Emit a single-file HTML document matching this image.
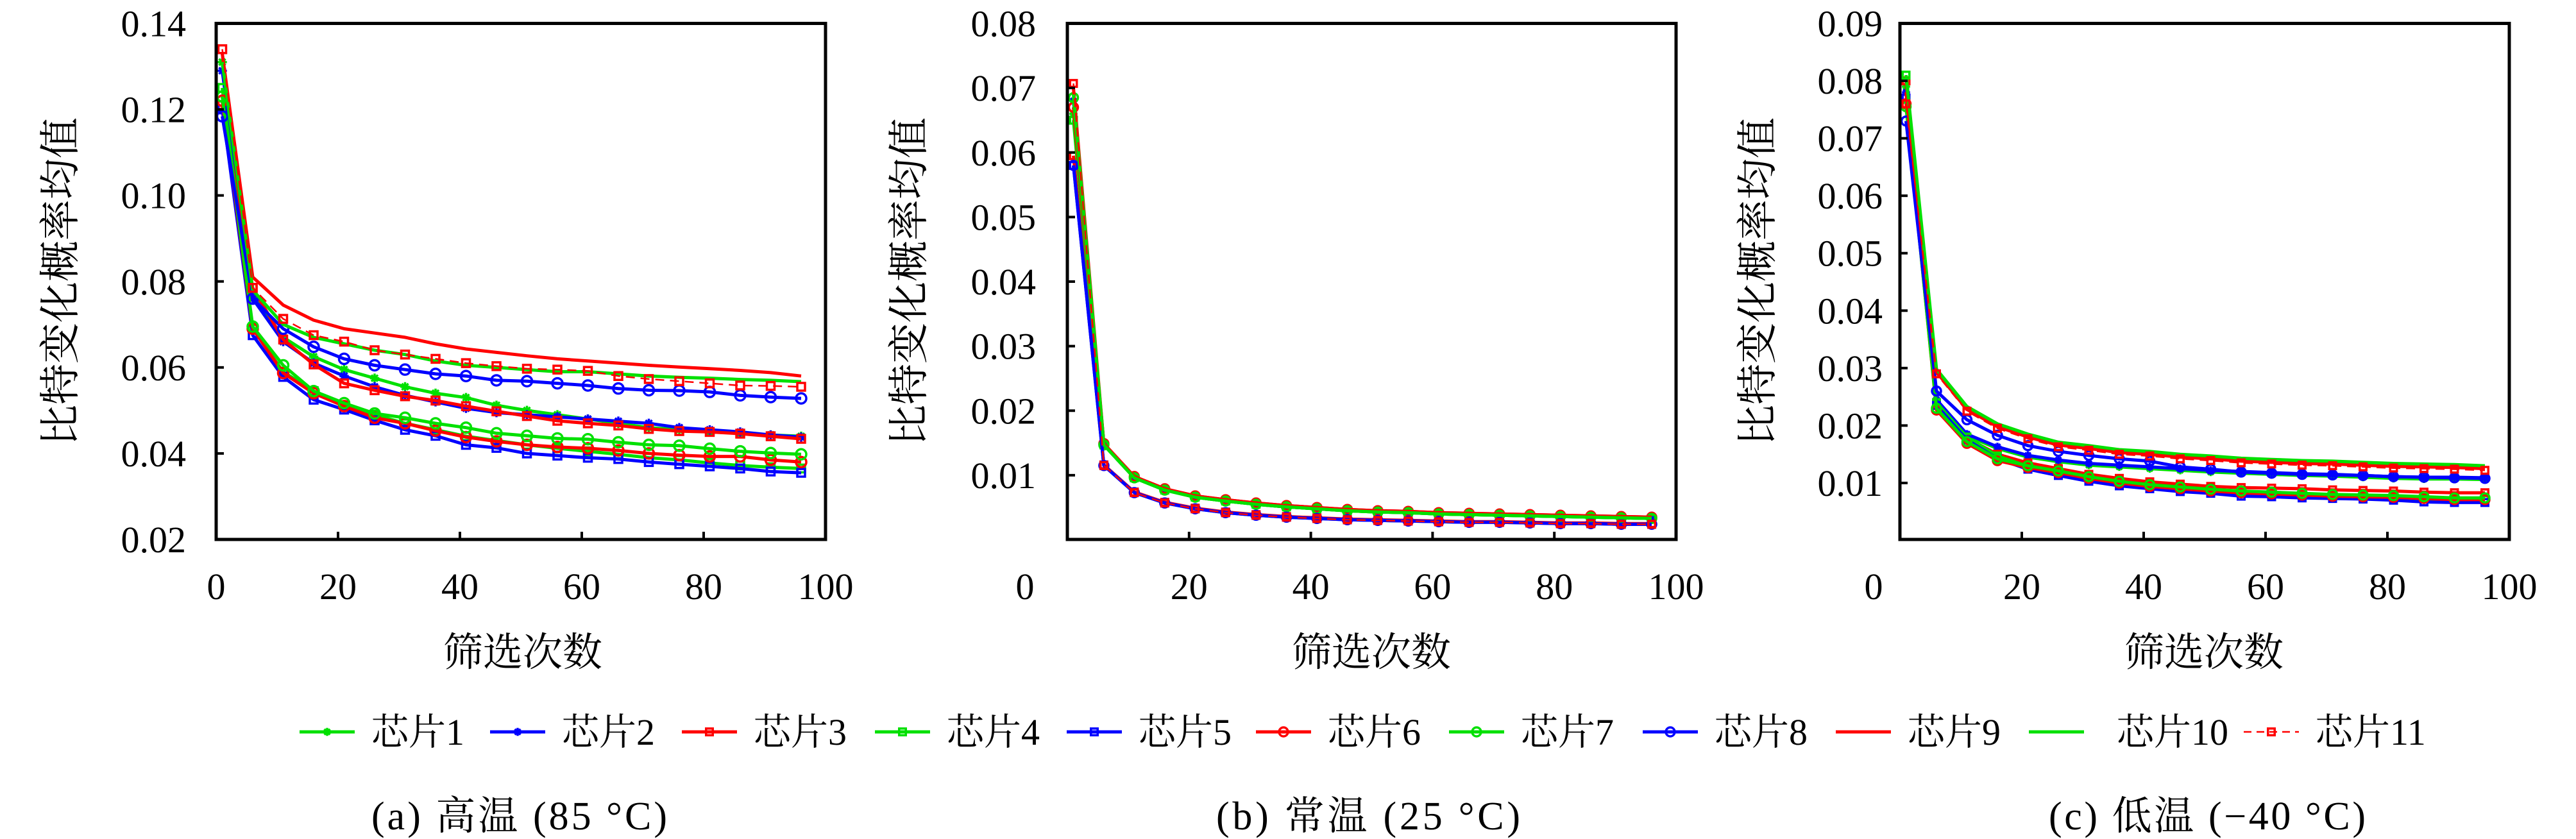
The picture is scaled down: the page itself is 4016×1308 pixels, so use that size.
<!DOCTYPE html>
<html><head><meta charset="utf-8"><style>
html,body{margin:0;padding:0;background:#fff;}
svg{display:block;}
text{font-family:"Liberation Serif","Noto Serif CJK SC",serif;fill:#000;}
</style></head><body>
<svg id="s" xmlns="http://www.w3.org/2000/svg" width="4016" height="1308" viewBox="0 0 4016 1308">
<rect width="4016" height="1308" fill="#fff"/>
<g id="g"></g>
<g font-size="58">
<text x="579" y="1161">芯片1</text>
<text x="876" y="1161">芯片2</text>
<text x="1175" y="1161">芯片3</text>
<text x="1476" y="1161">芯片4</text>
<text x="1775" y="1161">芯片5</text>
<text x="2070" y="1161">芯片6</text>
<text x="2371" y="1161">芯片7</text>
<text x="2673" y="1161">芯片8</text>
<text x="2974" y="1161">芯片9</text>
<text x="3300" y="1161">芯片10</text>
<text x="3610" y="1161">芯片11</text>
</g>
<g font-size="62">
<text x="579" y="1293" textLength="461" lengthAdjust="spacing">(a) 高温 (85 °C)</text>
<text x="1896" y="1293" textLength="474" lengthAdjust="spacing">(b) 常温 (25 °C)</text>
<text x="3194" y="1293" textLength="494" lengthAdjust="spacing">(c) 低温 (−40 °C)</text>
</g>
</svg>
<script>
(function(){
var NS="http://www.w3.org/2000/svg",G=document.getElementById('g');
function el(t,a){var e=document.createElementNS(NS,t);for(var k in a)e.setAttribute(k,a[k]);G.appendChild(e);return e;}
var GR='#00e000',BL='#0000ff',RD='#ff0000';
var sty=[
 {c:GR,m:'star'},{c:BL,m:'star'},{c:RD,m:'sq'},{c:GR,m:'sq'},{c:BL,m:'sq'},
 {c:RD,m:'ci'},{c:GR,m:'ci'},{c:BL,m:'ci'},{c:RD,m:''},{c:GR,m:''},{c:RD,m:'sq',d:1}];
function marker(m,x,y,c,r){
 if(m==='sq')el('rect',{x:x-r*0.75,y:y-r*0.75,width:r*1.5,height:r*1.5,fill:'none',stroke:c,'stroke-width':3.5});
 else if(m==='ci')el('circle',{cx:x,cy:y,r:r,fill:'none',stroke:c,'stroke-width':3.5});
 else if(m==='star'){var s=r*0.9;el('path',{d:'M'+(x-s)+' '+y+'H'+(x+s)+'M'+x+' '+(y-s)+'V'+(y+s)+'M'+(x-s*.7)+' '+(y-s*.7)+'L'+(x+s*.7)+' '+(y+s*.7)+'M'+(x-s*.7)+' '+(y+s*.7)+'L'+(x+s*.7)+' '+(y-s*.7),stroke:c,'stroke-width':3.5});}
}
var xs=[];for(var i=1;i<=96;i+=5)xs.push(i);
function panel(P,data,yt,r){
 var X=function(x){return P.x0+x/100*(P.x1-P.x0)},Y=function(v){return P.yb-(v-P.vmin)/(P.vmax-P.vmin)*(P.yb-P.yt)};
 for(var s=0;s<11;s++){var d=data[s],st=sty[s],pts=[];
  for(var i=0;i<d.length;i++)pts.push(X(xs[i]).toFixed(1)+','+Y(d[i]).toFixed(1));
  var a={points:pts.join(' '),fill:'none',stroke:st.c,'stroke-width':st.d?2.5:5,'stroke-linejoin':'round'};
  if(st.d)a['stroke-dasharray']='14 9';
  el('polyline',a);
  if(st.m)for(var i=0;i<d.length;i++)marker(st.m,X(xs[i]),Y(d[i]),st.c,r);
 }
 el('rect',{x:P.x0,y:36.5,width:P.x1-P.x0,height:841-36.5,fill:'none',stroke:'#000','stroke-width':5});
 for(var k=20;k<=80;k+=20)el('line',{x1:X(k),x2:X(k),y1:841,y2:829,stroke:'#000','stroke-width':4});
 for(var k=0;k<=100;k+=20){var t=el('text',{x:k==0?P.zx:X(k),y:934,'font-size':58,'text-anchor':'middle'});t.textContent=k;}
 yt.forEach(function(v){var y=Y(v);el('line',{x1:P.x0,x2:P.x0+12,y1:y,y2:y,stroke:'#000','stroke-width':4});
  var t=el('text',{x:P.lx,y:y+20,'font-size':58,'text-anchor':'end'});t.textContent=v.toFixed(2);});
 var t=el('text',{x:P.xl,y:1038,'font-size':62,'text-anchor':'middle'});t.textContent='筛选次数';
 t=el('text',{x:0,y:0,'font-size':64,'text-anchor':'middle',transform:'translate('+(P.yl+22)+',439) rotate(-90)'});t.textContent='比特变化概率均值';
}
var A=[
[.131,.077,.067,.0625,.0595,.0575,.0555,.054,.053,.0512,.050,.049,.048,.047,.046,.0455,.045,.0447,.0443,.044],
[.129,.076,.066,.061,.058,.0555,.0535,.052,.0505,.0495,.049,.0485,.048,.0475,.047,.046,.0455,.045,.0443,.0438],
[.121,.0785,.0665,.0607,.0563,.0547,.0533,.0523,.051,.0498,.0487,.0476,.047,.0465,.0457,.0452,.045,.0446,.044,.0434],
[.125,.069,.059,.0545,.0512,.049,.047,.0455,.044,.043,.042,.0412,.0405,.0398,.039,.0385,.0378,.0372,.0368,.0365],
[.12,.0675,.0578,.0525,.0502,.0477,.0455,.0441,.042,.0413,.040,.0395,.039,.0387,.038,.0375,.037,.0365,.0358,.0355],
[.122,.069,.0587,.054,.051,.0483,.047,.0453,.0438,.0428,.042,.0415,.0412,.0407,.040,.0396,.0393,.0393,.0385,.038],
[.123,.0695,.0605,.0545,.0517,.0493,.0483,.047,.046,.0447,.0441,.0435,.0433,.0426,.042,.0418,.0411,.0405,.0401,.0398],
[.1184,.076,.069,.0648,.062,.0605,.0595,.0585,.058,.057,.0568,.0563,.0558,.0551,.0547,.0546,.0543,.0535,.0531,.0528],
[.133,.081,.0745,.071,.069,.068,.067,.0655,.0643,.0635,.0627,.062,.0615,.061,.0605,.0601,.0597,.0593,.0588,.058],
[.131,.078,.070,.067,.0655,.064,.063,.0615,.0605,.060,.0595,.059,.059,.0585,.058,.0577,.0575,.0572,.057,.0567],
[.134,.0785,.0713,.0675,.066,.064,.063,.062,.061,.0603,.0597,.0595,.0592,.058,.0573,.0568,.0563,.0558,.0557,.0555]];
var tg=[.0148,.0097,.0078,.0067,.0061,.0056,.0052,.0049,.0046,.0044,.0043,.0041,.0040,.0039,.0038,.0037,.0036,.0035,.0034];
var bg=[.0115,.0073,.0057,.0048,.0042,.0038,.0035,.0033,.0031,.0030,.0029,.0028,.0027,.0027,.0026,.0025,.0025,.0024,.0024];
var bs=[[.066,0],[.068,0],[.0595,1],[.065,0],[.058,1],[.067,0],[.0685,0],[.058,1],[.070,0],[.069,0],[.0707,1]];
var B=bs.map(function(q,i){var arr=q[1]?bg:tg;return [q[0]].concat(arr.map(function(v){return v+(i%3-1)*0.0001;}));});
var g1=[.029,.0225,.0195,.0177,.0163,.0157,.015,.0147,.0142,.0139,.0135,.0133,.0131,.013,.0128,.0126,.0125,.0124,.0122];
var g8=[.026,.021,.0183,.0165,.0155,.0148,.0142,.0138,.0128,.0124,.0119,.0117,.0115,.0114,.0113,.0111,.011,.0109,.0108];
var g2=[.0245,.0185,.0163,.0148,.014,.0134,.0131,.0128,.0125,.0122,.012,.0118,.0116,.0115,.0113,.0111,.011,.011,.0109];
var g3=[.0235,.0178,.015,.0135,.0125,.0115,.0108,.0102,.0098,.0094,.0092,.0091,.009,.0088,.0087,.0086,.0084,.0083,.0083];
var g7=[.023,.0172,.0142,.013,.0121,.0111,.0103,.0097,.0093,.0089,.0086,.0084,.0082,.008,.0079,.0078,.0076,.0074,.0074];
var g5=[.0235,.0175,.0142,.0124,.0113,.0103,.0095,.009,.0085,.0082,.0077,.0076,.0074,.0073,.0072,.007,.0067,.0066,.0066];
function off(a,d){return a.map(function(v){return v+d;});}
var C=[
[.079].concat(off(g2,-.0003)),[.078].concat(g2),[.080].concat(g3),[.081].concat(off(g5,.0005)),[.077].concat(g5),
[.076].concat(off(g7,-.0003)),[.0755].concat(g7),[.073].concat(g8),[.078].concat(off(g1,.0003)),[.081].concat(off(g1,.0008)),[.076].concat(g1)];
panel({x0:337,x1:1287,yb:841,yt:36.5,vmin:.02,vmax:.14,zx:337,lx:290,xl:815,yl:94},A,[.02,.04,.06,.08,.10,.12,.14],8);
panel({x0:1664,x1:2613,yb:841.5,yt:36.5,vmin:0,vmax:.08,zx:1598,lx:1615,xl:2138,yl:1417},B,[.01,.02,.03,.04,.05,.06,.07,.08],7);
panel({x0:2962,x1:3912,yb:842.5,yt:36.5,vmin:0,vmax:.09,zx:2921,lx:2935,xl:3436,yl:2740},C,[.01,.02,.03,.04,.05,.06,.07,.08,.09],7);
var L=[467,764,1063,1364,1663,1958,2259,2561,2862,3163,3498];
L.forEach(function(x,i){var st=sty[i];var a={x1:x,x2:x+86,y1:1141,y2:1141,stroke:st.c,'stroke-width':st.d?2.5:5};
 if(st.d)a['stroke-dasharray']='12 8';el('line',a);if(st.m)marker(st.m,x+43,1141,st.c,7);});
})();
</script>
</body></html>
